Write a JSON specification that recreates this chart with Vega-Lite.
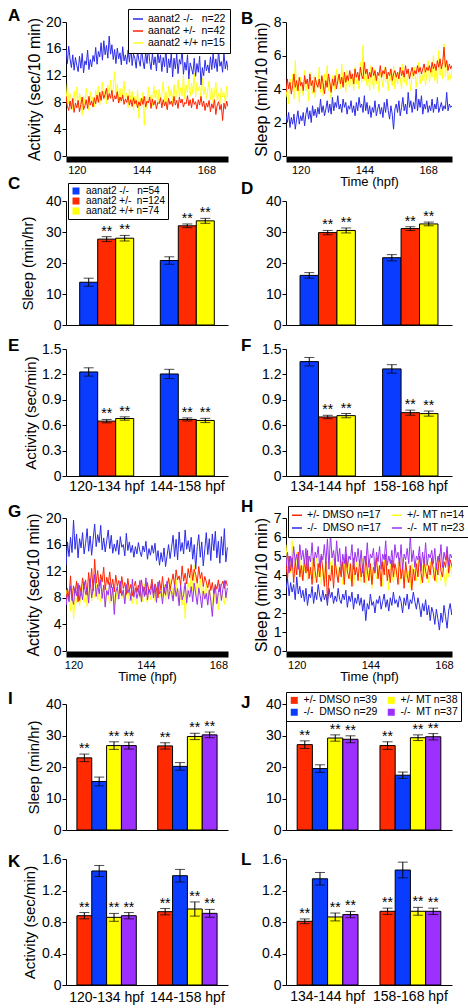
{
"$schema":"https://vega.github.io/schema/vega-lite/v6.json",
"padding":{"left":8,"top":6,"right":5,"bottom":5},
"autosize":{"type":"pad"},
"config":{
 "font":"Liberation Sans",
 "view":{"stroke":null},
 "axis":{"domainColor":"black","tickColor":"black","labelColor":"black","titleColor":"black","grid":false,"titleFontWeight":"normal","domainWidth":1,"tickWidth":1},
 "axisY":{"labelFontSize":14,"tickSize":4,"labelPadding":1,"titleFontSize":15,"titlePadding":4,"labelOverlap":false},
 "axisX":{"ticks":false,"labelFontSize":14,"labelPadding":3,"titleFontSize":13,"labelAngle":0},
 "legend":{"labelColor":"black","labelFontSize":11,"title":null},
 "title":{"fontSize":17,"fontWeight":"bold","anchor":"start","frame":"group","baseline":"top","offset":0,"color":"black"}
},
"datasets":{
"ts1":[
{"t":114.5,"a":15.2,"b":7.6,"c":10.2,"d":2.4,"e":3.8,"f":3.5},
{"t":115,"a":16.8,"b":8.4,"c":8.6,"d":2.0,"e":4.6,"f":4.2},
{"t":115.5,"a":14.1,"b":7.1,"c":9.9,"d":2.6,"e":4.0,"f":3.1},
{"t":116,"a":15.9,"b":8.9,"c":8.1,"d":1.7,"e":4.4,"f":4.6},
{"t":116.5,"a":13.8,"b":7.4,"c":10.8,"d":2.3,"e":3.7,"f":3.8},
{"t":117,"a":16.4,"b":6.8,"c":7.8,"d":1.9,"e":4.2,"f":4.9},
{"t":117.5,"a":14.5,"b":8.2,"c":9.3,"d":2.5,"e":4.9,"f":3.4},
{"t":118,"a":13.2,"b":7.0,"c":8.4,"d":1.6,"e":4.1,"f":5.7},
{"t":118.5,"a":15.1,"b":8.6,"c":6.9,"d":2.2,"e":4.5,"f":3.9},
{"t":119,"a":12.8,"b":6.5,"c":9.7,"d":2.7,"e":3.9,"f":4.3},
{"t":119.5,"a":14.7,"b":7.9,"c":8.0,"d":1.9,"e":4.7,"f":3.2},
{"t":120,"a":13.5,"b":7.2,"c":10.3,"d":2.4,"e":4.2,"f":4.7},
{"t":120.5,"a":12.6,"b":8.3,"c":7.2,"d":2.1,"e":4.4,"f":4.0},
{"t":121,"a":14.9,"b":6.6,"c":9.4,"d":2.6,"e":3.9,"f":3.6},
{"t":121.5,"a":13.1,"b":7.7,"c":8.3,"d":1.8,"e":4.8,"f":5.1},
{"t":122,"a":15.3,"b":8.8,"c":6.1,"d":2.5,"e":4.3,"f":3.9},
{"t":122.5,"a":12.4,"b":6.9,"c":9.0,"d":2.9,"e":4.6,"f":4.4},
{"t":123,"a":14.2,"b":7.5,"c":7.7,"d":2.2,"e":4.0,"f":3.3},
{"t":123.5,"a":13.6,"b":8.4,"c":10.1,"d":2.7,"e":4.9,"f":5.0},
{"t":124,"a":15.8,"b":7.1,"c":8.5,"d":2.0,"e":4.2,"f":4.1},
{"t":124.5,"a":12.9,"b":8.9,"c":6.8,"d":3.0,"e":4.5,"f":3.7},
{"t":125,"a":14.4,"b":7.6,"c":9.6,"d":2.4,"e":3.8,"f":4.8},
{"t":125.5,"a":13.3,"b":8.2,"c":7.9,"d":2.8,"e":4.7,"f":3.5},
{"t":126,"a":15.0,"b":7.3,"c":8.8,"d":2.3,"e":4.3,"f":4.5},
{"t":126.5,"a":14.1,"b":8.7,"c":7.3,"d":2.9,"e":4.1,"f":4.2},
{"t":127,"a":16.2,"b":7.8,"c":9.8,"d":2.5,"e":4.6,"f":5.3},
{"t":127.5,"a":13.7,"b":9.1,"c":8.2,"d":3.4,"e":4.0,"f":3.8},
{"t":128,"a":15.6,"b":8.0,"c":10.4,"d":2.6,"e":4.8,"f":4.6},
{"t":128.5,"a":14.8,"b":9.5,"c":7.6,"d":3.0,"e":4.3,"f":3.6},
{"t":129,"a":16.9,"b":8.3,"c":9.1,"d":2.4,"e":3.7,"f":4.9},
{"t":129.5,"a":14.3,"b":9.7,"c":11.0,"d":2.8,"e":4.5,"f":4.1},
{"t":130,"a":17.2,"b":8.6,"c":8.4,"d":3.3,"e":4.1,"f":5.4},
{"t":130.5,"a":15.1,"b":9.2,"c":9.9,"d":2.6,"e":4.9,"f":3.9},
{"t":131,"a":16.5,"b":10.1,"c":7.8,"d":3.1,"e":4.4,"f":4.4},
{"t":131.5,"a":14.6,"b":8.4,"c":10.6,"d":2.5,"e":3.8,"f":3.4},
{"t":132,"a":17.9,"b":9.3,"c":9.2,"d":3.5,"e":4.6,"f":4.8},
{"t":132.5,"a":15.2,"b":8.6,"c":11.3,"d":2.7,"e":4.2,"f":4.5},
{"t":133,"a":16.6,"b":9.8,"c":8.7,"d":3.2,"e":4.8,"f":3.9},
{"t":133.5,"a":14.4,"b":8.1,"c":10.2,"d":2.9,"e":4.0,"f":5.2},
{"t":134,"a":15.9,"b":9.0,"c":12.6,"d":3.6,"e":4.5,"f":4.3},
{"t":134.5,"a":13.8,"b":8.5,"c":9.0,"d":2.8,"e":4.9,"f":4.8},
{"t":135,"a":16.1,"b":9.6,"c":10.8,"d":3.1,"e":4.3,"f":4.0},
{"t":135.5,"a":14.5,"b":7.9,"c":8.3,"d":2.6,"e":4.7,"f":5.5},
{"t":136,"a":15.4,"b":8.8,"c":10.1,"d":3.4,"e":4.1,"f":4.2},
{"t":136.5,"a":13.6,"b":8.2,"c":7.9,"d":2.9,"e":5.0,"f":4.7},
{"t":137,"a":16.3,"b":9.1,"c":9.6,"d":3.2,"e":4.4,"f":3.8},
{"t":137.5,"a":14.2,"b":7.7,"c":11.2,"d":2.5,"e":4.8,"f":5.1},
{"t":138,"a":15.1,"b":8.5,"c":8.5,"d":3.0,"e":4.5,"f":4.4},
{"t":138.5,"a":13.7,"b":8.0,"c":9.4,"d":2.8,"e":5.1,"f":4.1},
{"t":139,"a":15.8,"b":9.0,"c":7.2,"d":3.3,"e":4.6,"f":5.0},
{"t":139.5,"a":14.0,"b":7.6,"c":10.0,"d":2.6,"e":4.9,"f":4.6},
{"t":140,"a":16.4,"b":8.4,"c":8.1,"d":3.0,"e":4.3,"f":3.9},
{"t":140.5,"a":13.5,"b":7.4,"c":9.7,"d":2.4,"e":5.2,"f":5.3},
{"t":141,"a":15.2,"b":8.7,"c":6.8,"d":3.2,"e":4.7,"f":4.3},
{"t":141.5,"a":14.6,"b":7.8,"c":8.9,"d":2.7,"e":5.0,"f":4.8},
{"t":142,"a":13.1,"b":8.3,"c":7.5,"d":3.5,"e":4.5,"f":4.0},
{"t":142.5,"a":15.7,"b":7.2,"c":9.9,"d":2.9,"e":5.3,"f":5.6},
{"t":143,"a":14.3,"b":8.1,"c":5.6,"d":3.1,"e":4.8,"f":4.4},
{"t":143.5,"a":13.4,"b":7.5,"c":8.6,"d":2.6,"e":4.6,"f":6.6},
{"t":144,"a":16.0,"b":8.6,"c":7.3,"d":3.6,"e":5.6,"f":4.5},
{"t":144.5,"a":14.2,"b":7.7,"c":9.5,"d":2.7,"e":4.9,"f":5.1},
{"t":145,"a":13.0,"b":8.9,"c":4.6,"d":3.2,"e":5.2,"f":4.2},
{"t":145.5,"a":15.5,"b":7.3,"c":8.8,"d":2.5,"e":4.6,"f":4.7},
{"t":146,"a":13.8,"b":8.2,"c":7.0,"d":3.0,"e":5.0,"f":3.9},
{"t":146.5,"a":16.2,"b":7.9,"c":10.3,"d":2.3,"e":4.7,"f":5.4},
{"t":147,"a":14.1,"b":8.8,"c":8.2,"d":2.9,"e":5.3,"f":4.5},
{"t":147.5,"a":12.9,"b":7.1,"c":9.1,"d":2.6,"e":4.8,"f":4.0},
{"t":148,"a":15.3,"b":8.5,"c":7.4,"d":3.3,"e":5.1,"f":5.2},
{"t":148.5,"a":13.6,"b":7.6,"c":10.5,"d":2.4,"e":4.5,"f":4.3},
{"t":149,"a":14.8,"b":8.3,"c":8.6,"d":2.8,"e":5.0,"f":4.8},
{"t":149.5,"a":12.7,"b":7.0,"c":9.8,"d":3.1,"e":4.8,"f":3.8},
{"t":150,"a":15.6,"b":8.0,"c":7.7,"d":2.5,"e":5.4,"f":5.0},
{"t":150.5,"a":13.9,"b":7.8,"c":10.0,"d":2.9,"e":4.7,"f":4.6},
{"t":151,"a":15.1,"b":8.7,"c":8.4,"d":2.3,"e":5.1,"f":4.1},
{"t":151.5,"a":12.6,"b":7.2,"c":9.3,"d":3.2,"e":4.9,"f":5.3},
{"t":152,"a":14.7,"b":8.4,"c":11.1,"d":2.6,"e":5.3,"f":4.4},
{"t":152.5,"a":13.3,"b":7.5,"c":8.0,"d":3.4,"e":4.6,"f":4.9},
{"t":153,"a":16.1,"b":8.1,"c":9.6,"d":2.7,"e":5.0,"f":3.9},
{"t":153.5,"a":12.4,"b":6.9,"c":7.5,"d":2.2,"e":4.8,"f":5.1},
{"t":154,"a":14.5,"b":8.6,"c":10.4,"d":3.0,"e":5.2,"f":4.5},
{"t":154.5,"a":13.2,"b":7.7,"c":8.9,"d":2.5,"e":4.5,"f":4.2},
{"t":155,"a":15.4,"b":8.2,"c":9.9,"d":1.6,"e":4.9,"f":5.4},
{"t":155.5,"a":11.8,"b":7.4,"c":7.8,"d":2.8,"e":5.1,"f":4.0},
{"t":156,"a":14.6,"b":8.9,"c":10.7,"d":3.1,"e":4.7,"f":4.8},
{"t":156.5,"a":13.0,"b":7.6,"c":8.3,"d":2.6,"e":5.0,"f":4.3},
{"t":157,"a":15.2,"b":8.3,"c":9.5,"d":3.3,"e":4.6,"f":5.0},
{"t":157.5,"a":12.3,"b":7.1,"c":11.4,"d":2.4,"e":5.3,"f":4.6},
{"t":158,"a":14.4,"b":8.8,"c":8.7,"d":2.9,"e":4.8,"f":4.0},
{"t":158.5,"a":13.7,"b":7.9,"c":10.2,"d":3.5,"e":5.1,"f":5.5},
{"t":159,"a":15.9,"b":8.5,"c":9.0,"d":2.7,"e":4.7,"f":4.4},
{"t":159.5,"a":12.2,"b":7.3,"c":12.1,"d":3.1,"e":5.4,"f":4.9},
{"t":160,"a":14.0,"b":8.0,"c":8.5,"d":2.5,"e":4.9,"f":4.2},
{"t":160.5,"a":12.8,"b":7.8,"c":10.6,"d":3.8,"e":5.2,"f":5.2},
{"t":161,"a":15.1,"b":9.0,"c":9.4,"d":2.9,"e":4.6,"f":4.5},
{"t":161.5,"a":11.5,"b":7.5,"c":11.8,"d":3.3,"e":5.0,"f":3.9},
{"t":162,"a":13.9,"b":8.4,"c":8.9,"d":2.6,"e":5.3,"f":5.0},
{"t":162.5,"a":13.1,"b":7.2,"c":10.9,"d":3.2,"e":4.8,"f":4.6},
{"t":163,"a":12.2,"b":8.6,"c":9.3,"d":2.8,"e":5.1,"f":5.3},
{"t":163.5,"a":14.6,"b":7.7,"c":12.4,"d":4.0,"e":4.9,"f":4.1},
{"t":164,"a":11.9,"b":8.1,"c":8.8,"d":2.7,"e":5.4,"f":4.8},
{"t":164.5,"a":13.8,"b":7.0,"c":11.0,"d":3.4,"e":5.0,"f":5.6},
{"t":165,"a":12.5,"b":8.4,"c":9.7,"d":2.9,"e":5.3,"f":4.3},
{"t":165.5,"a":14.9,"b":7.6,"c":10.5,"d":3.6,"e":4.9,"f":5.0},
{"t":166,"a":10.6,"b":8.9,"c":8.2,"d":2.5,"e":5.2,"f":4.5},
{"t":166.5,"a":13.2,"b":7.4,"c":11.6,"d":3.1,"e":5.5,"f":5.4},
{"t":167,"a":12.0,"b":8.2,"c":9.1,"d":2.8,"e":5.0,"f":4.2},
{"t":167.5,"a":14.3,"b":6.8,"c":10.3,"d":3.3,"e":5.3,"f":4.9},
{"t":168,"a":12.7,"b":7.9,"c":8.6,"d":2.6,"e":5.1,"f":5.7},
{"t":168.5,"a":13.6,"b":7.3,"c":9.8,"d":3.0,"e":5.4,"f":4.4},
{"t":169,"a":12.4,"b":8.3,"c":11.2,"d":2.7,"e":5.0,"f":5.2},
{"t":169.5,"a":14.8,"b":6.6,"c":8.4,"d":3.4,"e":5.6,"f":4.7},
{"t":170,"a":12.9,"b":7.8,"c":10.1,"d":2.6,"e":5.2,"f":6.0},
{"t":170.5,"a":15.3,"b":7.1,"c":7.9,"d":3.1,"e":5.5,"f":4.5},
{"t":171,"a":13.1,"b":8.4,"c":9.6,"d":2.8,"e":5.1,"f":5.1},
{"t":171.5,"a":14.5,"b":6.2,"c":11.0,"d":3.5,"e":5.7,"f":4.3},
{"t":172,"a":12.6,"b":7.6,"c":8.3,"d":2.6,"e":5.3,"f":6.3},
{"t":172.5,"a":15.7,"b":8.1,"c":9.4,"d":2.9,"e":5.8,"f":4.8},
{"t":173,"a":13.4,"b":6.9,"c":7.7,"d":3.2,"e":5.2,"f":5.5},
{"t":173.5,"a":14.1,"b":7.7,"c":10.2,"d":2.7,"e":5.6,"f":4.6},
{"t":174,"a":12.5,"b":5.3,"c":8.8,"d":3.0,"e":6.5,"f":6.7},
{"t":174.5,"a":15.4,"b":7.9,"c":9.5,"d":2.8,"e":5.3,"f":4.7},
{"t":175,"a":13.0,"b":7.0,"c":8.0,"d":3.8,"e":5.7,"f":5.6},
{"t":175.5,"a":14.2,"b":8.2,"c":10.4,"d":2.7,"e":5.1,"f":4.5},
{"t":176,"a":12.8,"b":7.4,"c":8.7,"d":3.1,"e":5.5,"f":5.0},
{"t":176.5,"a":13.9,"b":7.8,"c":9.9,"d":2.9,"e":5.2,"f":4.6},
{"t":177,"a":13.3,"b":7.1,"c":8.4,"d":3.0,"e":5.4,"f":5.2}
],
"ts2":[
{"t":116.5,"g":8.5,"h":13.5,"i":10.8,"j":7.8,"k":4.6,"l":3.3,"m":5.6,"n":4.5},
{"t":117,"g":10.2,"h":15.8,"i":6.5,"j":9.3,"k":3.8,"l":3.8,"m":4.4,"n":5.2},
{"t":117.5,"g":7.1,"h":12.9,"i":9.2,"j":6.9,"k":5.0,"l":2.9,"m":5.0,"n":4.1},
{"t":118,"g":9.4,"h":16.4,"i":7.8,"j":8.7,"k":4.2,"l":3.6,"m":4.1,"n":5.0},
{"t":118.5,"g":8.0,"h":14.2,"i":8.6,"j":7.4,"k":4.9,"l":3.1,"m":5.8,"n":4.4},
{"t":119,"g":11.3,"h":17.1,"i":6.0,"j":9.8,"k":3.6,"l":3.5,"m":4.6,"n":5.5},
{"t":119.5,"g":7.6,"h":14.8,"i":9.5,"j":8.1,"k":4.7,"l":2.7,"m":3.9,"n":4.7},
{"t":120,"g":9.8,"h":19.7,"i":4.8,"j":7.0,"k":4.0,"l":3.9,"m":5.2,"n":5.1},
{"t":120.5,"g":8.7,"h":15.3,"i":8.1,"j":9.5,"k":5.2,"l":3.0,"m":4.3,"n":4.3},
{"t":121,"g":10.5,"h":17.6,"i":7.2,"j":8.3,"k":3.9,"l":3.4,"m":4.8,"n":5.6},
{"t":121.5,"g":7.4,"h":14.0,"i":9.9,"j":10.2,"k":4.5,"l":2.8,"m":3.8,"n":4.8},
{"t":122,"g":9.9,"h":16.9,"i":6.8,"j":7.6,"k":3.7,"l":3.2,"m":4.5,"n":5.3},
{"t":122.5,"g":8.8,"h":15.5,"i":8.4,"j":9.0,"k":4.8,"l":2.6,"m":4.2,"n":4.6},
{"t":123,"g":11.0,"h":17.8,"i":10.1,"j":7.7,"k":4.1,"l":3.3,"m":5.1,"n":5.4},
{"t":123.5,"g":9.3,"h":14.6,"i":7.3,"j":10.4,"k":5.3,"l":2.4,"m":3.7,"n":4.2},
{"t":124,"g":10.7,"h":16.2,"i":9.0,"j":8.5,"k":3.8,"l":3.0,"m":4.6,"n":5.0},
{"t":124.5,"g":8.4,"h":18.4,"i":6.7,"j":9.6,"k":4.4,"l":2.8,"m":4.0,"n":4.7},
{"t":125,"g":11.8,"h":15.0,"i":8.8,"j":7.2,"k":3.5,"l":3.4,"m":4.9,"n":5.7},
{"t":125.5,"g":9.6,"h":17.3,"i":10.6,"j":10.9,"k":4.9,"l":2.5,"m":3.6,"n":4.5},
{"t":126,"g":12.4,"h":14.4,"i":7.5,"j":8.0,"k":4.2,"l":3.1,"m":4.4,"n":5.2},
{"t":126.5,"g":9.0,"h":16.8,"i":9.3,"j":9.4,"k":3.6,"l":2.7,"m":5.0,"n":4.9},
{"t":127,"g":13.8,"h":19.1,"i":8.0,"j":11.5,"k":4.6,"l":3.5,"m":3.9,"n":5.5},
{"t":127.5,"g":10.2,"h":15.7,"i":10.4,"j":8.2,"k":3.9,"l":2.9,"m":4.7,"n":4.4},
{"t":128,"g":12.1,"h":17.5,"i":7.7,"j":10.0,"k":5.0,"l":2.6,"m":3.5,"n":5.1},
{"t":128.5,"g":9.7,"h":16.3,"i":9.1,"j":8.6,"k":4.3,"l":3.2,"m":4.5,"n":4.8},
{"t":129,"g":11.5,"h":18.9,"i":7.4,"j":10.7,"k":3.4,"l":2.7,"m":3.8,"n":5.6},
{"t":129.5,"g":10.4,"h":15.2,"i":8.6,"j":7.9,"k":4.7,"l":3.0,"m":4.9,"n":4.6},
{"t":130,"g":12.6,"h":17.0,"i":10.0,"j":9.9,"k":2.6,"l":2.4,"m":4.2,"n":5.9},
{"t":130.5,"g":9.2,"h":14.9,"i":6.9,"j":6.6,"k":4.0,"l":3.3,"m":3.6,"n":4.3},
{"t":131,"g":11.1,"h":16.6,"i":9.4,"j":9.1,"k":3.7,"l":2.8,"m":4.7,"n":6.2},
{"t":131.5,"g":10.0,"h":18.2,"i":8.2,"j":8.4,"k":4.5,"l":3.1,"m":4.0,"n":4.9},
{"t":132,"g":11.9,"h":15.4,"i":7.1,"j":10.3,"k":3.3,"l":2.5,"m":5.2,"n":5.3},
{"t":132.5,"g":9.5,"h":17.4,"i":9.7,"j":7.5,"k":4.8,"l":2.9,"m":3.9,"n":4.5},
{"t":133,"g":10.8,"h":14.7,"i":8.3,"j":9.6,"k":4.1,"l":2.6,"m":4.4,"n":5.8},
{"t":133.5,"g":8.9,"h":16.1,"i":7.0,"j":5.5,"k":3.6,"l":3.3,"m":3.7,"n":4.7},
{"t":134,"g":11.4,"h":15.0,"i":9.2,"j":8.8,"k":4.4,"l":2.7,"m":4.8,"n":5.4},
{"t":134.5,"g":9.8,"h":16.7,"i":7.6,"j":9.7,"k":3.9,"l":2.5,"m":4.1,"n":4.2},
{"t":135,"g":10.6,"h":14.5,"i":8.9,"j":7.8,"k":4.7,"l":3.0,"m":3.5,"n":5.1},
{"t":135.5,"g":8.7,"h":17.2,"i":10.3,"j":10.5,"k":3.5,"l":2.7,"m":4.6,"n":4.6},
{"t":136,"g":11.2,"h":15.6,"i":7.9,"j":8.3,"k":5.1,"l":3.2,"m":3.9,"n":5.5},
{"t":136.5,"g":9.4,"h":16.0,"i":9.0,"j":9.2,"k":4.2,"l":2.3,"m":5.1,"n":4.4},
{"t":137,"g":10.3,"h":14.3,"i":7.3,"j":7.1,"k":3.8,"l":2.9,"m":4.3,"n":5.0},
{"t":137.5,"g":8.5,"h":17.7,"i":8.5,"j":10.0,"k":4.6,"l":2.6,"m":3.7,"n":4.8},
{"t":138,"g":10.9,"h":15.1,"i":9.8,"j":8.7,"k":3.4,"l":3.1,"m":4.5,"n":5.6},
{"t":138.5,"g":9.1,"h":16.4,"i":7.5,"j":9.4,"k":4.9,"l":2.2,"m":3.4,"n":4.3},
{"t":139,"g":10.0,"h":14.8,"i":8.7,"j":7.6,"k":4.0,"l":2.8,"m":4.2,"n":5.2},
{"t":139.5,"g":8.3,"h":15.9,"i":7.1,"j":10.8,"k":4.4,"l":2.5,"m":4.8,"n":4.7},
{"t":140,"g":9.7,"h":14.1,"i":9.4,"j":8.1,"k":3.7,"l":3.0,"m":3.8,"n":5.4},
{"t":140.5,"g":10.5,"h":15.7,"i":8.2,"j":9.5,"k":4.8,"l":2.4,"m":4.4,"n":4.5},
{"t":141,"g":8.8,"h":14.6,"i":7.0,"j":7.9,"k":3.9,"l":2.8,"m":3.6,"n":5.3},
{"t":141.5,"g":9.9,"h":16.3,"i":9.5,"j":8.8,"k":4.5,"l":2.1,"m":4.9,"n":4.1},
{"t":142,"g":8.2,"h":15.0,"i":7.8,"j":10.6,"k":3.6,"l":2.7,"m":4.0,"n":5.0},
{"t":142.5,"g":10.7,"h":14.2,"i":8.9,"j":7.4,"k":5.0,"l":1.6,"m":3.5,"n":4.6},
{"t":143,"g":9.0,"h":15.8,"i":7.4,"j":9.7,"k":4.2,"l":2.5,"m":4.6,"n":5.7},
{"t":143.5,"g":9.6,"h":14.9,"i":10.1,"j":8.2,"k":3.7,"l":2.2,"m":3.9,"n":4.4},
{"t":144,"g":8.4,"h":16.5,"i":8.0,"j":11.0,"k":4.6,"l":3.0,"m":4.3,"n":5.1},
{"t":144.5,"g":10.3,"h":13.8,"i":7.2,"j":7.7,"k":3.5,"l":2.4,"m":3.3,"n":4.9},
{"t":145,"g":8.9,"h":15.4,"i":9.3,"j":9.3,"k":4.4,"l":2.6,"m":4.7,"n":5.4},
{"t":145.5,"g":9.4,"h":14.4,"i":7.7,"j":8.5,"k":4.1,"l":2.0,"m":4.1,"n":4.2},
{"t":146,"g":10.8,"h":15.9,"i":8.6,"j":10.1,"k":4.9,"l":2.7,"m":3.8,"n":5.2},
{"t":146.5,"g":8.6,"h":14.7,"i":9.9,"j":8.0,"k":3.8,"l":2.5,"m":4.5,"n":4.7},
{"t":147,"g":10.1,"h":16.2,"i":7.5,"j":9.8,"k":4.5,"l":2.9,"m":3.7,"n":5.5},
{"t":147.5,"g":9.3,"h":13.6,"i":8.8,"j":7.3,"k":3.4,"l":2.2,"m":4.2,"n":4.3},
{"t":148,"g":8.0,"h":15.1,"i":10.4,"j":10.4,"k":4.7,"l":2.6,"m":3.4,"n":5.1},
{"t":148.5,"g":10.6,"h":12.9,"i":7.9,"j":8.6,"k":4.0,"l":3.0,"m":4.8,"n":4.8},
{"t":149,"g":9.1,"h":14.8,"i":9.2,"j":9.0,"k":5.1,"l":2.3,"m":3.9,"n":5.8},
{"t":149.5,"g":11.2,"h":13.4,"i":8.1,"j":7.1,"k":3.7,"l":2.7,"m":4.4,"n":4.5},
{"t":150,"g":8.7,"h":15.5,"i":10.0,"j":9.6,"k":4.3,"l":2.1,"m":3.2,"n":5.0},
{"t":150.5,"g":10.0,"h":12.7,"i":7.6,"j":8.4,"k":3.6,"l":2.8,"m":4.6,"n":4.6},
{"t":151,"g":9.5,"h":14.3,"i":9.6,"j":10.5,"k":4.8,"l":2.4,"m":4.0,"n":5.3},
{"t":151.5,"g":11.0,"h":16.0,"i":8.3,"j":7.8,"k":3.9,"l":3.1,"m":3.6,"n":4.4},
{"t":152,"g":9.2,"h":13.9,"i":10.7,"j":9.2,"k":4.6,"l":2.5,"m":4.3,"n":5.6},
{"t":152.5,"g":10.4,"h":15.6,"i":7.8,"j":8.9,"k":4.2,"l":2.7,"m":3.9,"n":4.9},
{"t":153,"g":11.6,"h":17.4,"i":9.5,"j":7.5,"k":3.5,"l":2.3,"m":4.7,"n":5.2},
{"t":153.5,"g":9.8,"h":14.2,"i":8.4,"j":10.0,"k":4.9,"l":2.9,"m":3.5,"n":4.5},
{"t":154,"g":12.2,"h":16.8,"i":10.9,"j":8.2,"k":3.8,"l":2.6,"m":4.1,"n":5.6},
{"t":154.5,"g":10.7,"h":13.7,"i":7.4,"j":9.4,"k":4.4,"l":2.0,"m":4.9,"n":4.3},
{"t":155,"g":11.3,"h":17.9,"i":9.1,"j":6.8,"k":3.3,"l":2.8,"m":3.8,"n":5.1},
{"t":155.5,"g":9.9,"h":15.0,"i":8.0,"j":9.9,"k":4.7,"l":2.4,"m":4.4,"n":4.8},
{"t":156,"g":12.8,"h":16.3,"i":6.9,"j":7.7,"k":4.0,"l":3.0,"m":3.6,"n":5.4},
{"t":156.5,"g":10.5,"h":14.6,"i":9.7,"j":8.5,"k":3.6,"l":2.2,"m":4.2,"n":4.6},
{"t":157,"g":11.7,"h":18.2,"i":4.9,"j":10.3,"k":4.5,"l":2.7,"m":3.3,"n":6.1},
{"t":157.5,"g":10.1,"h":15.3,"i":8.6,"j":7.2,"k":3.2,"l":2.5,"m":4.6,"n":4.7},
{"t":158,"g":12.4,"h":16.6,"i":10.2,"j":9.1,"k":4.3,"l":3.1,"m":4.0,"n":5.3},
{"t":158.5,"g":11.0,"h":14.9,"i":8.8,"j":8.1,"k":3.7,"l":2.6,"m":4.3,"n":4.4},
{"t":159,"g":13.0,"h":17.1,"i":11.6,"j":9.7,"k":4.6,"l":2.2,"m":3.7,"n":5.0},
{"t":159.5,"g":10.6,"h":13.8,"i":9.0,"j":7.4,"k":3.9,"l":2.8,"m":4.8,"n":4.8},
{"t":160,"g":12.3,"h":16.0,"i":12.9,"j":10.2,"k":5.0,"l":2.4,"m":4.1,"n":5.5},
{"t":160.5,"g":11.5,"h":12.3,"i":8.3,"j":8.6,"k":4.1,"l":1.8,"m":3.5,"n":4.2},
{"t":161,"g":10.2,"h":15.7,"i":10.5,"j":7.0,"k":3.6,"l":2.5,"m":4.5,"n":5.2},
{"t":161.5,"g":12.7,"h":17.5,"i":9.2,"j":9.5,"k":4.8,"l":2.1,"m":3.9,"n":4.6},
{"t":162,"g":10.9,"h":14.1,"i":11.0,"j":8.3,"k":4.2,"l":2.7,"m":5.0,"n":5.7},
{"t":162.5,"g":11.8,"h":16.4,"i":7.9,"j":6.5,"k":3.8,"l":1.9,"m":4.2,"n":4.5},
{"t":163,"g":9.7,"h":12.8,"i":9.6,"j":9.0,"k":4.5,"l":2.4,"m":3.6,"n":5.1},
{"t":163.5,"g":11.2,"h":15.2,"i":8.5,"j":7.8,"k":4.0,"l":1.6,"m":4.7,"n":4.9},
{"t":164,"g":10.4,"h":17.8,"i":10.1,"j":8.7,"k":4.9,"l":2.3,"m":4.0,"n":5.3},
{"t":164.5,"g":9.5,"h":14.5,"i":7.6,"j":6.9,"k":4.3,"l":2.0,"m":3.8,"n":4.6},
{"t":165,"g":10.8,"h":16.9,"i":9.4,"j":9.2,"k":3.7,"l":1.4,"m":4.4,"n":5.4},
{"t":165.5,"g":9.1,"h":13.6,"i":8.1,"j":7.5,"k":4.6,"l":2.2,"m":3.6,"n":4.3},
{"t":166,"g":10.3,"h":17.6,"i":6.8,"j":5.2,"k":4.0,"l":1.7,"m":4.9,"n":5.0},
{"t":166.5,"g":8.6,"h":15.1,"i":9.0,"j":8.4,"k":5.1,"l":1.1,"m":4.2,"n":4.7},
{"t":167,"g":10.0,"h":18.0,"i":7.3,"j":9.8,"k":4.2,"l":2.0,"m":3.7,"n":5.6},
{"t":167.5,"g":9.3,"h":14.0,"i":8.7,"j":7.1,"k":3.9,"l":1.5,"m":4.6,"n":4.4},
{"t":168,"g":10.7,"h":16.5,"i":6.2,"j":8.8,"k":4.7,"l":2.4,"m":4.0,"n":5.2},
{"t":168.5,"g":8.9,"h":13.2,"i":9.3,"j":10.1,"k":4.4,"l":1.8,"m":3.4,"n":4.8},
{"t":169,"g":9.9,"h":17.2,"i":7.8,"j":7.6,"k":5.3,"l":1.2,"m":4.3,"n":5.5},
{"t":169.5,"g":10.5,"h":14.4,"i":8.4,"j":9.3,"k":4.1,"l":2.1,"m":3.9,"n":4.5},
{"t":170,"g":9.4,"h":18.4,"i":7.0,"j":10.6,"k":4.8,"l":2.5,"m":4.5,"n":5.1},
{"t":170.5,"g":10.6,"h":13.4,"i":8.9,"j":8.0,"k":4.5,"l":1.9,"m":4.1,"n":4.9},
{"t":171,"g":9.8,"h":15.6,"i":7.5,"j":9.5,"k":4.2,"l":2.6,"m":3.8,"n":5.4}
],
"bars":[
{"p":"C","x":"120-134 hpf","k":"-/-","m":13.8,"lo":12.5,"hi":15.1,"s":""},
{"p":"C","x":"120-134 hpf","k":"+/-","m":27.7,"lo":26.9,"hi":28.5,"s":"**"},
{"p":"C","x":"120-134 hpf","k":"+/+","m":28.0,"lo":27.1,"hi":28.9,"s":"**"},
{"p":"C","x":"144-158 hpf","k":"-/-","m":20.8,"lo":19.6,"hi":22.0,"s":""},
{"p":"C","x":"144-158 hpf","k":"+/-","m":32.0,"lo":31.4,"hi":32.6,"s":"**"},
{"p":"C","x":"144-158 hpf","k":"+/+","m":33.6,"lo":32.8,"hi":34.4,"s":"**"},
{"p":"D","x":"134-144 hpf","k":"-/-","m":16.0,"lo":15.1,"hi":16.9,"s":""},
{"p":"D","x":"134-144 hpf","k":"+/-","m":29.8,"lo":29.1,"hi":30.5,"s":"**"},
{"p":"D","x":"134-144 hpf","k":"+/+","m":30.5,"lo":29.7,"hi":31.3,"s":"**"},
{"p":"D","x":"158-168 hpf","k":"-/-","m":21.7,"lo":20.7,"hi":22.7,"s":""},
{"p":"D","x":"158-168 hpf","k":"+/-","m":31.1,"lo":30.5,"hi":31.7,"s":"**"},
{"p":"D","x":"158-168 hpf","k":"+/+","m":32.6,"lo":32.0,"hi":33.2,"s":"**"},
{"p":"E","x":"120-134 hpf","k":"-/-","m":1.229,"lo":1.18,"hi":1.278,"s":""},
{"p":"E","x":"120-134 hpf","k":"+/-","m":0.648,"lo":0.628,"hi":0.668,"s":"**"},
{"p":"E","x":"120-134 hpf","k":"+/+","m":0.679,"lo":0.659,"hi":0.699,"s":"**"},
{"p":"E","x":"144-158 hpf","k":"-/-","m":1.205,"lo":1.15,"hi":1.26,"s":""},
{"p":"E","x":"144-158 hpf","k":"+/-","m":0.668,"lo":0.65,"hi":0.686,"s":"**"},
{"p":"E","x":"144-158 hpf","k":"+/+","m":0.656,"lo":0.631,"hi":0.681,"s":"**"},
{"p":"F","x":"134-144 hpf","k":"-/-","m":1.351,"lo":1.30,"hi":1.40,"s":""},
{"p":"F","x":"134-144 hpf","k":"+/-","m":0.697,"lo":0.677,"hi":0.717,"s":"**"},
{"p":"F","x":"134-144 hpf","k":"+/+","m":0.713,"lo":0.688,"hi":0.738,"s":"**"},
{"p":"F","x":"158-168 hpf","k":"-/-","m":1.265,"lo":1.215,"hi":1.315,"s":""},
{"p":"F","x":"158-168 hpf","k":"+/-","m":0.748,"lo":0.718,"hi":0.778,"s":"**"},
{"p":"F","x":"158-168 hpf","k":"+/+","m":0.737,"lo":0.707,"hi":0.767,"s":"**"},
{"p":"I","x":"120-134 hpf","k":"+/- DMSO","m":22.9,"lo":21.7,"hi":24.1,"s":"**"},
{"p":"I","x":"120-134 hpf","k":"-/- DMSO","m":15.4,"lo":14.0,"hi":16.8,"s":""},
{"p":"I","x":"120-134 hpf","k":"+/- MT","m":26.8,"lo":25.6,"hi":28.0,"s":"**"},
{"p":"I","x":"120-134 hpf","k":"-/- MT","m":26.8,"lo":25.7,"hi":27.9,"s":"**"},
{"p":"I","x":"144-158 hpf","k":"+/- DMSO","m":26.7,"lo":25.7,"hi":27.7,"s":"**"},
{"p":"I","x":"144-158 hpf","k":"-/- DMSO","m":20.2,"lo":19.0,"hi":21.4,"s":""},
{"p":"I","x":"144-158 hpf","k":"+/- MT","m":29.7,"lo":28.7,"hi":30.7,"s":"**"},
{"p":"I","x":"144-158 hpf","k":"-/- MT","m":30.2,"lo":29.3,"hi":31.1,"s":"**"},
{"p":"J","x":"134-144 hpf","k":"+/- DMSO","m":27.1,"lo":25.9,"hi":28.3,"s":"**"},
{"p":"J","x":"134-144 hpf","k":"-/- DMSO","m":19.5,"lo":18.3,"hi":20.7,"s":""},
{"p":"J","x":"134-144 hpf","k":"+/- MT","m":29.2,"lo":28.2,"hi":30.2,"s":"**"},
{"p":"J","x":"134-144 hpf","k":"-/- MT","m":28.8,"lo":27.7,"hi":29.9,"s":"**"},
{"p":"J","x":"158-168 hpf","k":"+/- DMSO","m":26.8,"lo":25.6,"hi":28.0,"s":"**"},
{"p":"J","x":"158-168 hpf","k":"-/- DMSO","m":17.4,"lo":16.4,"hi":18.4,"s":""},
{"p":"J","x":"158-168 hpf","k":"+/- MT","m":29.3,"lo":28.4,"hi":30.2,"s":"**"},
{"p":"J","x":"158-168 hpf","k":"-/- MT","m":29.6,"lo":28.6,"hi":30.6,"s":"**"},
{"p":"K","x":"120-134 hpf","k":"+/- DMSO","m":0.88,"lo":0.84,"hi":0.92,"s":"**"},
{"p":"K","x":"120-134 hpf","k":"-/- DMSO","m":1.448,"lo":1.378,"hi":1.518,"s":""},
{"p":"K","x":"120-134 hpf","k":"+/- MT","m":0.859,"lo":0.809,"hi":0.909,"s":"**"},
{"p":"K","x":"120-134 hpf","k":"-/- MT","m":0.88,"lo":0.84,"hi":0.92,"s":"**"},
{"p":"K","x":"144-158 hpf","k":"+/- DMSO","m":0.931,"lo":0.891,"hi":0.971,"s":"**"},
{"p":"K","x":"144-158 hpf","k":"-/- DMSO","m":1.388,"lo":1.308,"hi":1.468,"s":""},
{"p":"K","x":"144-158 hpf","k":"+/- MT","m":0.965,"lo":0.875,"hi":1.055,"s":"**"},
{"p":"K","x":"144-158 hpf","k":"-/- MT","m":0.91,"lo":0.86,"hi":0.96,"s":"**"},
{"p":"L","x":"134-144 hpf","k":"+/- DMSO","m":0.809,"lo":0.779,"hi":0.839,"s":"**"},
{"p":"L","x":"134-144 hpf","k":"-/- DMSO","m":1.349,"lo":1.269,"hi":1.429,"s":""},
{"p":"L","x":"134-144 hpf","k":"+/- MT","m":0.864,"lo":0.814,"hi":0.914,"s":"**"},
{"p":"L","x":"134-144 hpf","k":"-/- MT","m":0.894,"lo":0.854,"hi":0.934,"s":"**"},
{"p":"L","x":"158-168 hpf","k":"+/- DMSO","m":0.936,"lo":0.896,"hi":0.976,"s":"**"},
{"p":"L","x":"158-168 hpf","k":"-/- DMSO","m":1.46,"lo":1.36,"hi":1.56,"s":""},
{"p":"L","x":"158-168 hpf","k":"+/- MT","m":0.936,"lo":0.886,"hi":0.986,"s":"**"},
{"p":"L","x":"158-168 hpf","k":"-/- MT","m":0.936,"lo":0.896,"hi":0.976,"s":"**"}
]
},
"columns":2,
"spacing":{"row":0,"column":58},
"bounds":"flush",
"align":{"row":"each","column":"each"},
"resolve":{"scale":{"color":"independent","xOffset":"independent","x":"independent","y":"independent"},"legend":{"color":"independent"}},
"concat":[
{
 "width":162,"height":134,
 "title":{"text":"A","dx":-58,"dy":20},
 "data":{"name":"ts1"},
 "transform":[{"fold":["c","b","a"],"as":["grp","val"]}],
 "mark":{"type":"line","strokeWidth":1,"clip":true},
 "encoding":{
  "x":{"field":"t","type":"quantitative","scale":{"domain":[116,176],"nice":false,"zero":false},"axis":{"values":[120,144,168],"title":null,"offset":3,"domainWidth":6,"labelFontSize":11,"labelPadding":5}},
  "y":{"field":"val","type":"quantitative","scale":{"domain":[0,20],"nice":false},"axis":{"values":[0,4,8,12,16,20],"labelOverlap":false,"title":"Activity (sec/10 min)","titleFontSize":16,"titlePadding":3.4}},
  "color":{"field":"grp","type":"nominal","scale":{"domain":["a","b","c"],"range":["#2b2be8","#ff2200","#ffff1a"]},
   "legend":{"orient":"none","legendX":62,"legendY":-13,"symbolType":"stroke","symbolSize":100,"symbolStrokeWidth":1.5,"labelFontSize":10.5,"strokeColor":"black","fillColor":"white","padding":4,"rowPadding":0,"labelOffset":4,
    "labelExpr":"datum.value == 'a' ? 'aanat2 -/-\u00a0\u00a0\u00a0n=22' : datum.value == 'b' ? 'aanat2 +/-\u00a0\u00a0n=42' : 'aanat2 +/+ n=15'"}}
 }
},
{
 "width":166,"height":134,
 "title":{"text":"B","dx":-45,"dy":17},
 "data":{"name":"ts1"},
 "transform":[{"fold":["f","e","d"],"as":["grp","val"]}],
 "mark":{"type":"line","strokeWidth":1,"clip":true},
 "encoding":{
  "x":{"field":"t","type":"quantitative","scale":{"domain":[114.5,177],"nice":false,"zero":false},"axis":{"values":[120,144,168],"title":"Time (hpf)","offset":3,"domainWidth":6,"labelFontSize":11,"labelPadding":5,"titlePadding":0}},
  "y":{"field":"val","type":"quantitative","scale":{"domain":[0,8],"nice":false},"axis":{"values":[0,2,4,6,8],"labelOverlap":false,"title":"Sleep (min/10 min)","titleFontSize":16,"titlePadding":4.2}},
  "color":{"field":"grp","type":"nominal","scale":{"domain":["d","e","f"],"range":["#2b2be8","#ff2200","#ffff1a"]},"legend":null}
 }
},
{"width":162,"height":45,"data":{"values":[]},"mark":{"type":"point","opacity":0}},
{"width":166,"height":45,"data":{"values":[]},"mark":{"type":"point","opacity":0}},
{
 "width":162,"height":124,
 "title":{"text":"C","dx":-58,"dy":14},
 "data":{"name":"bars"},
 "transform":[{"filter":"datum.p == 'C'"}],
 "encoding":{
  "x":{"field":"x","type":"nominal","scale":{"paddingInner":0.33,"paddingOuter":0.17},"axis":{"title":null,"labels":false}},
  "xOffset":{"field":"k","type":"nominal","scale":{"domain":["-/-","+/-","+/+"]}}
 },
 "layer":[
  {"mark":{"type":"bar","stroke":"black","strokeWidth":1},
   "encoding":{"y":{"field":"m","type":"quantitative","scale":{"domain":[0,40],"nice":false},"axis":{"values":[0,10,20,30,40],"tickCount":5,"labelOverlap":false,"title":"Sleep (min/hr)","titlePadding":10}},
    "color":{"field":"k","type":"nominal","scale":{"domain":["-/-","+/-","+/+"],"range":["#0a3cff","#ff2a00","#ffff00"]},
     "legend":{"orient":"none","legendX":2,"legendY":-18,"symbolType":"square","symbolSize":49,"symbolStrokeWidth":0,"labelFontSize":10,"strokeColor":"black","fillColor":"white","padding":3,"rowPadding":0,"labelOffset":5,
      "labelExpr":"datum.value == '-/-' ? 'aanat2 -/-\u00a0\u00a0\u00a0n=54' : datum.value == '+/-' ? 'aanat2 +/-\u00a0\u00a0n=124' : 'aanat2 +/+ n=74'"}}}},
  {"mark":{"type":"rule","color":"black","strokeWidth":1},"encoding":{"y":{"field":"lo","type":"quantitative","axis":{"values":[0,10,20,30,40],"tickCount":5,"labelOverlap":false,"title":"Sleep (min/hr)","titlePadding":10}},"y2":{"field":"hi"}}},
  {"mark":{"type":"tick","color":"black","size":10,"thickness":1},"encoding":{"y":{"field":"lo","type":"quantitative","axis":{"values":[0,10,20,30,40],"tickCount":5,"labelOverlap":false,"title":"Sleep (min/hr)","titlePadding":10}}}},
  {"mark":{"type":"tick","color":"black","size":10,"thickness":1},"encoding":{"y":{"field":"hi","type":"quantitative","axis":{"values":[0,10,20,30,40],"tickCount":5,"labelOverlap":false,"title":"Sleep (min/hr)","titlePadding":10}}}},
  {"mark":{"type":"text","dy":-1,"baseline":"alphabetic","fontSize":14,"color":"black"},"encoding":{"y":{"field":"hi","type":"quantitative","axis":{"values":[0,10,20,30,40],"tickCount":5,"labelOverlap":false,"title":"Sleep (min/hr)","titlePadding":10}},"text":{"field":"s"}}}
 ]
},
{
 "width":166,"height":124,
 "title":{"text":"D","dx":-45,"dy":8},
 "data":{"name":"bars"},
 "transform":[{"filter":"datum.p == 'D'"}],
 "encoding":{
  "x":{"field":"x","type":"nominal","scale":{"paddingInner":0.33,"paddingOuter":0.17},"axis":{"title":null,"labels":false}},
  "xOffset":{"field":"k","type":"nominal","scale":{"domain":["-/-","+/-","+/+"]}}
 },
 "layer":[
  {"mark":{"type":"bar","stroke":"black","strokeWidth":1},
   "encoding":{"y":{"field":"m","type":"quantitative","scale":{"domain":[0,40],"nice":false},"axis":{"values":[0,10,20,30,40],"tickCount":5,"labelOverlap":false,"title":null}},
    "color":{"field":"k","type":"nominal","scale":{"domain":["-/-","+/-","+/+"],"range":["#0a3cff","#ff2a00","#ffff00"]},"legend":null}}},
  {"mark":{"type":"rule","color":"black","strokeWidth":1},"encoding":{"y":{"field":"lo","type":"quantitative","axis":{"values":[0,10,20,30,40],"tickCount":5,"labelOverlap":false,"title":null}},"y2":{"field":"hi"}}},
  {"mark":{"type":"tick","color":"black","size":10,"thickness":1},"encoding":{"y":{"field":"lo","type":"quantitative","axis":{"values":[0,10,20,30,40],"tickCount":5,"labelOverlap":false,"title":null}}}},
  {"mark":{"type":"tick","color":"black","size":10,"thickness":1},"encoding":{"y":{"field":"hi","type":"quantitative","axis":{"values":[0,10,20,30,40],"tickCount":5,"labelOverlap":false,"title":null}}}},
  {"mark":{"type":"text","dy":-1,"baseline":"alphabetic","fontSize":14,"color":"black"},"encoding":{"y":{"field":"hi","type":"quantitative","axis":{"values":[0,10,20,30,40],"tickCount":5,"labelOverlap":false,"title":null}},"text":{"field":"s"}}}
 ]
},
{"width":162,"height":24,"data":{"values":[]},"mark":{"type":"point","opacity":0}},
{"width":166,"height":24,"data":{"values":[]},"mark":{"type":"point","opacity":0}},
{
 "width":162,"height":127,
 "title":{"text":"E","dx":-58,"dy":16.5},
 "data":{"name":"bars"},
 "transform":[{"filter":"datum.p == 'E'"}],
 "encoding":{
  "x":{"field":"x","type":"nominal","scale":{"paddingInner":0.33,"paddingOuter":0.17},"axis":{"title":null,"labelPadding":3}},
  "xOffset":{"field":"k","type":"nominal","scale":{"domain":["-/-","+/-","+/+"]}}
 },
 "layer":[
  {"mark":{"type":"bar","stroke":"black","strokeWidth":1},
   "encoding":{"y":{"field":"m","type":"quantitative","scale":{"domain":[0,1.5],"nice":false},"axis":{"values":[0,0.3,0.6,0.9,1.2,1.5],"tickCount":6,"labelOverlap":false,"labelExpr":"datum.value == 0 ? '0' : format(datum.value, '.1f')","title":"Activity (sec/min)","titlePadding":3.2}},
    "color":{"field":"k","type":"nominal","scale":{"domain":["-/-","+/-","+/+"],"range":["#0a3cff","#ff2a00","#ffff00"]},"legend":null}}},
  {"mark":{"type":"rule","color":"black","strokeWidth":1},"encoding":{"y":{"field":"lo","type":"quantitative","axis":{"values":[0,0.3,0.6,0.9,1.2,1.5],"tickCount":6,"labelOverlap":false,"labelExpr":"datum.value == 0 ? '0' : format(datum.value, '.1f')","title":"Activity (sec/min)","titlePadding":3.2}},"y2":{"field":"hi"}}},
  {"mark":{"type":"tick","color":"black","size":10,"thickness":1},"encoding":{"y":{"field":"lo","type":"quantitative","axis":{"values":[0,0.3,0.6,0.9,1.2,1.5],"tickCount":6,"labelOverlap":false,"labelExpr":"datum.value == 0 ? '0' : format(datum.value, '.1f')","title":"Activity (sec/min)","titlePadding":3.2}}}},
  {"mark":{"type":"tick","color":"black","size":10,"thickness":1},"encoding":{"y":{"field":"hi","type":"quantitative","axis":{"values":[0,0.3,0.6,0.9,1.2,1.5],"tickCount":6,"labelOverlap":false,"labelExpr":"datum.value == 0 ? '0' : format(datum.value, '.1f')","title":"Activity (sec/min)","titlePadding":3.2}}}},
  {"mark":{"type":"text","dy":-1,"baseline":"alphabetic","fontSize":14,"color":"black"},"encoding":{"y":{"field":"hi","type":"quantitative","axis":{"values":[0,0.3,0.6,0.9,1.2,1.5],"tickCount":6,"labelOverlap":false,"labelExpr":"datum.value == 0 ? '0' : format(datum.value, '.1f')","title":"Activity (sec/min)","titlePadding":3.2}},"text":{"field":"s"}}}
 ]
},
{
 "width":166,"height":127,
 "title":{"text":"F","dx":-45,"dy":16.5},
 "data":{"name":"bars"},
 "transform":[{"filter":"datum.p == 'F'"}],
 "encoding":{
  "x":{"field":"x","type":"nominal","scale":{"paddingInner":0.33,"paddingOuter":0.17},"axis":{"title":null,"labelPadding":3}},
  "xOffset":{"field":"k","type":"nominal","scale":{"domain":["-/-","+/-","+/+"]}}
 },
 "layer":[
  {"mark":{"type":"bar","stroke":"black","strokeWidth":1},
   "encoding":{"y":{"field":"m","type":"quantitative","scale":{"domain":[0,1.5],"nice":false},"axis":{"values":[0,0.3,0.6,0.9,1.2,1.5],"tickCount":6,"labelOverlap":false,"labelExpr":"datum.value == 0 ? '0' : format(datum.value, '.1f')","title":null}},
    "color":{"field":"k","type":"nominal","scale":{"domain":["-/-","+/-","+/+"],"range":["#0a3cff","#ff2a00","#ffff00"]},"legend":null}}},
  {"mark":{"type":"rule","color":"black","strokeWidth":1},"encoding":{"y":{"field":"lo","type":"quantitative","axis":{"values":[0,0.3,0.6,0.9,1.2,1.5],"tickCount":6,"labelOverlap":false,"labelExpr":"datum.value == 0 ? '0' : format(datum.value, '.1f')","title":null}},"y2":{"field":"hi"}}},
  {"mark":{"type":"tick","color":"black","size":10,"thickness":1},"encoding":{"y":{"field":"lo","type":"quantitative","axis":{"values":[0,0.3,0.6,0.9,1.2,1.5],"tickCount":6,"labelOverlap":false,"labelExpr":"datum.value == 0 ? '0' : format(datum.value, '.1f')","title":null}}}},
  {"mark":{"type":"tick","color":"black","size":10,"thickness":1},"encoding":{"y":{"field":"hi","type":"quantitative","axis":{"values":[0,0.3,0.6,0.9,1.2,1.5],"tickCount":6,"labelOverlap":false,"labelExpr":"datum.value == 0 ? '0' : format(datum.value, '.1f')","title":null}}}},
  {"mark":{"type":"text","dy":-1,"baseline":"alphabetic","fontSize":14,"color":"black"},"encoding":{"y":{"field":"hi","type":"quantitative","axis":{"values":[0,0.3,0.6,0.9,1.2,1.5],"tickCount":6,"labelOverlap":false,"labelExpr":"datum.value == 0 ? '0' : format(datum.value, '.1f')","title":null}},"text":{"field":"s"}}}
 ]
},
{"width":162,"height":42,"data":{"values":[]},"mark":{"type":"point","opacity":0}},
{"width":166,"height":42,"data":{"values":[]},"mark":{"type":"point","opacity":0}},
{
 "width":162,"height":133,
 "title":{"text":"G","dx":-58,"dy":13.5},
 "data":{"name":"ts2"},
 "transform":[{"fold":["i","g","j","h"],"as":["grp","val"]}],
 "mark":{"type":"line","strokeWidth":1,"clip":true},
 "encoding":{
  "x":{"field":"t","type":"quantitative","scale":{"domain":[117.5,171.2],"nice":false,"zero":false},"axis":{"values":[120,144,168],"title":"Time (hpf)","offset":3,"domainWidth":6,"labelFontSize":11,"labelPadding":5,"titlePadding":0}},
  "y":{"field":"val","type":"quantitative","scale":{"domain":[0,20],"nice":false},"axis":{"values":[0,4,8,12,16,20],"labelOverlap":false,"title":"Activity (sec/10 min)","titleFontSize":16,"titlePadding":3.7}},
  "color":{"field":"grp","type":"nominal","scale":{"domain":["g","h","i","j"],"range":["#ff2200","#2b2be8","#ffff1a","#9a32f2"]},"legend":null}
 }
},
{
 "width":166,"height":133,
 "title":{"text":"H","dx":-45,"dy":14.5},
 "data":{"name":"ts2"},
 "transform":[{"fold":["l","m","k","n"],"as":["grp","val"]}],
 "mark":{"type":"line","strokeWidth":1,"clip":true},
 "encoding":{
  "x":{"field":"t","type":"quantitative","scale":{"domain":[116.5,170.6],"nice":false,"zero":false},"axis":{"values":[120,144,168],"title":"Time (hpf)","offset":3,"domainWidth":6,"labelFontSize":11,"labelPadding":5,"titlePadding":0}},
  "y":{"field":"val","type":"quantitative","scale":{"domain":[0,7],"nice":false},"axis":{"values":[0,1,2,3,4,5,6,7],"labelOverlap":false,"title":"Sleep (min/10 min)","titleFontSize":16,"titlePadding":4.2}},
  "color":{"field":"grp","type":"nominal","scale":{"domain":["k","m","l","n"],"range":["#ff2200","#ffff1a","#2b2be8","#9a32f2"]},
   "legend":{"orient":"none","legendX":2,"legendY":-12,"direction":"horizontal","columns":2,"columnPadding":8,"rowPadding":1,"symbolType":"stroke","symbolSize":100,"symbolStrokeWidth":1.5,"labelFontSize":10.5,"strokeColor":"black","fillColor":"white","padding":3,"labelOffset":4,
    "labelExpr":"datum.value == 'k' ? '+/- DMSO n=17' : datum.value == 'm' ? '+/- MT n=14' : datum.value == 'l' ? '-/-\u00a0\u00a0DMSO n=17' : '-/-\u00a0\u00a0MT n=23'"}}
 }
},
{"width":162,"height":53,"data":{"values":[]},"mark":{"type":"point","opacity":0}},
{"width":166,"height":53,"data":{"values":[]},"mark":{"type":"point","opacity":0}},
{
 "width":162,"height":126,
 "title":{"text":"I","dx":-58,"dy":15},
 "data":{"name":"bars"},
 "transform":[{"filter":"datum.p == 'I'"}],
 "encoding":{
  "x":{"field":"x","type":"nominal","scale":{"paddingInner":0.265,"paddingOuter":0.135},"axis":{"title":null,"labels":false}},
  "xOffset":{"field":"k","type":"nominal","scale":{"domain":["+/- DMSO","-/- DMSO","+/- MT","-/- MT"]}}
 },
 "layer":[
  {"mark":{"type":"bar","stroke":"black","strokeWidth":1},
   "encoding":{"y":{"field":"m","type":"quantitative","scale":{"domain":[0,40],"nice":false},"axis":{"values":[0,10,20,30,40],"tickCount":5,"labelOverlap":false,"title":"Sleep (min/hr)","titlePadding":4.4}},
    "color":{"field":"k","type":"nominal","scale":{"domain":["+/- DMSO","+/- MT","-/- DMSO","-/- MT"],"range":["#ff2a00","#ffff00","#0a3cff","#9b30ff"]},"legend":null}}},
  {"mark":{"type":"rule","color":"black","strokeWidth":1},"encoding":{"y":{"field":"lo","type":"quantitative","axis":{"values":[0,10,20,30,40],"tickCount":5,"labelOverlap":false,"title":"Sleep (min/hr)","titlePadding":4.4}},"y2":{"field":"hi"}}},
  {"mark":{"type":"tick","color":"black","size":10,"thickness":1},"encoding":{"y":{"field":"lo","type":"quantitative","axis":{"values":[0,10,20,30,40],"tickCount":5,"labelOverlap":false,"title":"Sleep (min/hr)","titlePadding":4.4}}}},
  {"mark":{"type":"tick","color":"black","size":10,"thickness":1},"encoding":{"y":{"field":"hi","type":"quantitative","axis":{"values":[0,10,20,30,40],"tickCount":5,"labelOverlap":false,"title":"Sleep (min/hr)","titlePadding":4.4}}}},
  {"mark":{"type":"text","dy":-1,"baseline":"alphabetic","fontSize":14,"color":"black"},"encoding":{"y":{"field":"hi","type":"quantitative","axis":{"values":[0,10,20,30,40],"tickCount":5,"labelOverlap":false,"title":"Sleep (min/hr)","titlePadding":4.4}},"text":{"field":"s"}}}
 ]
},
{
 "width":166,"height":126,
 "title":{"text":"J","dx":-45,"dy":24.5},
 "data":{"name":"bars"},
 "transform":[{"filter":"datum.p == 'J'"}],
 "encoding":{
  "x":{"field":"x","type":"nominal","scale":{"paddingInner":0.265,"paddingOuter":0.135},"axis":{"title":null,"labels":false}},
  "xOffset":{"field":"k","type":"nominal","scale":{"domain":["+/- DMSO","-/- DMSO","+/- MT","-/- MT"]}}
 },
 "layer":[
  {"mark":{"type":"bar","stroke":"black","strokeWidth":1},
   "encoding":{"y":{"field":"m","type":"quantitative","scale":{"domain":[0,40],"nice":false},"axis":{"values":[0,10,20,30,40],"tickCount":5,"labelOverlap":false,"title":null}},
    "color":{"field":"k","type":"nominal","scale":{"domain":["+/- DMSO","+/- MT","-/- DMSO","-/- MT"],"range":["#ff2a00","#ffff00","#0a3cff","#9b30ff"]},
     "legend":{"orient":"none","legendX":0,"legendY":-12,"direction":"horizontal","columns":2,"columnPadding":8,"rowPadding":1,"symbolType":"square","symbolSize":49,"symbolStrokeWidth":0,"labelFontSize":10.5,"strokeColor":"black","fillColor":"white","padding":3,"labelOffset":4,
      "labelExpr":"datum.value == '+/- DMSO' ? '+/- DMSO n=39' : datum.value == '+/- MT' ? '+/- MT n=38' : datum.value == '-/- DMSO' ? '-/-\u00a0\u00a0DMSO n=29' : '-/-\u00a0\u00a0MT n=37'"}}}},
  {"mark":{"type":"rule","color":"black","strokeWidth":1},"encoding":{"y":{"field":"lo","type":"quantitative","axis":{"values":[0,10,20,30,40],"tickCount":5,"labelOverlap":false,"title":null}},"y2":{"field":"hi"}}},
  {"mark":{"type":"tick","color":"black","size":10,"thickness":1},"encoding":{"y":{"field":"lo","type":"quantitative","axis":{"values":[0,10,20,30,40],"tickCount":5,"labelOverlap":false,"title":null}}}},
  {"mark":{"type":"tick","color":"black","size":10,"thickness":1},"encoding":{"y":{"field":"hi","type":"quantitative","axis":{"values":[0,10,20,30,40],"tickCount":5,"labelOverlap":false,"title":null}}}},
  {"mark":{"type":"text","dy":-1,"baseline":"alphabetic","fontSize":14,"color":"black"},"encoding":{"y":{"field":"hi","type":"quantitative","axis":{"values":[0,10,20,30,40],"tickCount":5,"labelOverlap":false,"title":null}},"text":{"field":"s"}}}
 ]
},
{"width":162,"height":29,"data":{"values":[]},"mark":{"type":"point","opacity":0}},
{"width":166,"height":29,"data":{"values":[]},"mark":{"type":"point","opacity":0}},
{
 "width":162,"height":126,
 "title":{"text":"K","dx":-58,"dy":23},
 "data":{"name":"bars"},
 "transform":[{"filter":"datum.p == 'K'"}],
 "encoding":{
  "x":{"field":"x","type":"nominal","scale":{"paddingInner":0.265,"paddingOuter":0.135},"axis":{"title":null,"labelPadding":5}},
  "xOffset":{"field":"k","type":"nominal","scale":{"domain":["+/- DMSO","-/- DMSO","+/- MT","-/- MT"]}}
 },
 "layer":[
  {"mark":{"type":"bar","stroke":"black","strokeWidth":1},
   "encoding":{"y":{"field":"m","type":"quantitative","scale":{"domain":[0,1.6],"nice":false},"axis":{"values":[0,0.4,0.8,1.2,1.6],"tickCount":5,"labelOverlap":false,"labelExpr":"datum.value == 0 ? '0' : format(datum.value, '.1f')","title":"Activity (sec/min)","titlePadding":4.2}},
    "color":{"field":"k","type":"nominal","scale":{"domain":["+/- DMSO","+/- MT","-/- DMSO","-/- MT"],"range":["#ff2a00","#ffff00","#0a3cff","#9b30ff"]},"legend":null}}},
  {"mark":{"type":"rule","color":"black","strokeWidth":1},"encoding":{"y":{"field":"lo","type":"quantitative","axis":{"values":[0,0.4,0.8,1.2,1.6],"tickCount":5,"labelOverlap":false,"labelExpr":"datum.value == 0 ? '0' : format(datum.value, '.1f')","title":"Activity (sec/min)","titlePadding":4.2}},"y2":{"field":"hi"}}},
  {"mark":{"type":"tick","color":"black","size":10,"thickness":1},"encoding":{"y":{"field":"lo","type":"quantitative","axis":{"values":[0,0.4,0.8,1.2,1.6],"tickCount":5,"labelOverlap":false,"labelExpr":"datum.value == 0 ? '0' : format(datum.value, '.1f')","title":"Activity (sec/min)","titlePadding":4.2}}}},
  {"mark":{"type":"tick","color":"black","size":10,"thickness":1},"encoding":{"y":{"field":"hi","type":"quantitative","axis":{"values":[0,0.4,0.8,1.2,1.6],"tickCount":5,"labelOverlap":false,"labelExpr":"datum.value == 0 ? '0' : format(datum.value, '.1f')","title":"Activity (sec/min)","titlePadding":4.2}}}},
  {"mark":{"type":"text","dy":-1,"baseline":"alphabetic","fontSize":14,"color":"black"},"encoding":{"y":{"field":"hi","type":"quantitative","axis":{"values":[0,0.4,0.8,1.2,1.6],"tickCount":5,"labelOverlap":false,"labelExpr":"datum.value == 0 ? '0' : format(datum.value, '.1f')","title":"Activity (sec/min)","titlePadding":4.2}},"text":{"field":"s"}}}
 ]
},
{
 "width":166,"height":126,
 "title":{"text":"L","dx":-45,"dy":23},
 "data":{"name":"bars"},
 "transform":[{"filter":"datum.p == 'L'"}],
 "encoding":{
  "x":{"field":"x","type":"nominal","scale":{"paddingInner":0.265,"paddingOuter":0.135},"axis":{"title":null,"labelPadding":4}},
  "xOffset":{"field":"k","type":"nominal","scale":{"domain":["+/- DMSO","-/- DMSO","+/- MT","-/- MT"]}}
 },
 "layer":[
  {"mark":{"type":"bar","stroke":"black","strokeWidth":1},
   "encoding":{"y":{"field":"m","type":"quantitative","scale":{"domain":[0,1.6],"nice":false},"axis":{"values":[0,0.4,0.8,1.2,1.6],"tickCount":5,"labelOverlap":false,"labelExpr":"datum.value == 0 ? '0' : format(datum.value, '.1f')","title":null}},
    "color":{"field":"k","type":"nominal","scale":{"domain":["+/- DMSO","+/- MT","-/- DMSO","-/- MT"],"range":["#ff2a00","#ffff00","#0a3cff","#9b30ff"]},"legend":null}}},
  {"mark":{"type":"rule","color":"black","strokeWidth":1},"encoding":{"y":{"field":"lo","type":"quantitative","axis":{"values":[0,0.4,0.8,1.2,1.6],"tickCount":5,"labelOverlap":false,"labelExpr":"datum.value == 0 ? '0' : format(datum.value, '.1f')","title":null}},"y2":{"field":"hi"}}},
  {"mark":{"type":"tick","color":"black","size":10,"thickness":1},"encoding":{"y":{"field":"lo","type":"quantitative","axis":{"values":[0,0.4,0.8,1.2,1.6],"tickCount":5,"labelOverlap":false,"labelExpr":"datum.value == 0 ? '0' : format(datum.value, '.1f')","title":null}}}},
  {"mark":{"type":"tick","color":"black","size":10,"thickness":1},"encoding":{"y":{"field":"hi","type":"quantitative","axis":{"values":[0,0.4,0.8,1.2,1.6],"tickCount":5,"labelOverlap":false,"labelExpr":"datum.value == 0 ? '0' : format(datum.value, '.1f')","title":null}}}},
  {"mark":{"type":"text","dy":-1,"baseline":"alphabetic","fontSize":14,"color":"black"},"encoding":{"y":{"field":"hi","type":"quantitative","axis":{"values":[0,0.4,0.8,1.2,1.6],"tickCount":5,"labelOverlap":false,"labelExpr":"datum.value == 0 ? '0' : format(datum.value, '.1f')","title":null}},"text":{"field":"s"}}}
 ]
}
]
}
